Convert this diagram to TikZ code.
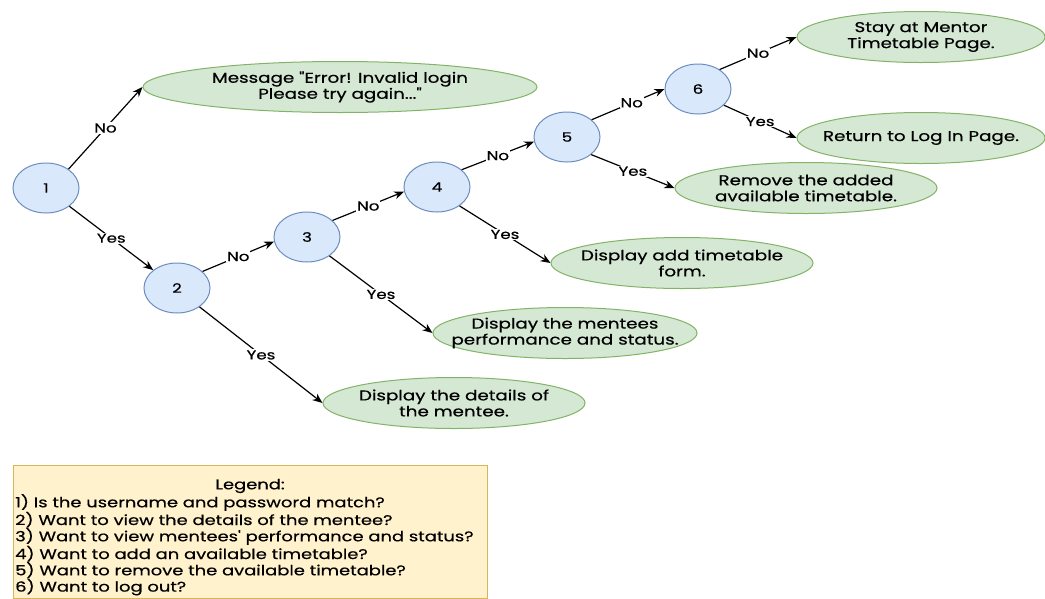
\documentclass[tikz,border=0pt]{standalone}
\usepackage{fontspec}
\setmainfont{Poppins}[Ligatures=TeXOff, FakeStretch=1.28, FakeBold=0.5]
\usetikzlibrary{shapes.geometric,arrows.meta}
\definecolor{qfill}{HTML}{DAE8FC}
\definecolor{qline}{HTML}{6C8EBF}
\definecolor{afill}{HTML}{D5E8D4}
\definecolor{aline}{HTML}{82B366}
\definecolor{lfill}{HTML}{FFF2CC}
\definecolor{lline}{HTML}{D6B656}
\begin{document}
\begin{tikzpicture}[x=1pt,y=-1pt,
  question/.style={ellipse, draw=qline, fill=qfill, line width=1pt,
    minimum width=66pt, minimum height=50pt, inner sep=0pt,
    font=\fontsize{13}{15}\selectfont},
  outcome/.style={ellipse, draw=aline, fill=afill, line width=1pt,
    inner ysep=0pt, inner xsep=-60pt, align=center, minimum height=51pt,
    font=\fontsize{14.3}{16}\selectfont},
  link/.style={line width=1.2pt, -{Stealth[length=10pt,width=8pt]}},
  tag/.style={fill=white, inner sep=1pt, font=\fontsize{13}{15}\selectfont}]
\useasboundingbox (0,0) rectangle (1045,598);

% decision points
\node[question] (q1) at (46,188) {1};
\node[question] (q2) at (177,288) {2};
\node[question] (q3) at (307,237) {3};
\node[question] (q4) at (437,187) {4};
\node[question] (q5) at (567,137) {5};
\node[question] (q6) at (698,89) {6};

% outcomes
\node[outcome, minimum width=394pt] (err) at (340,87)
  {Message "Error! Invalid login\\Please try again..."};
\node[outcome, minimum width=248pt] (stay) at (921,37)
  {Stay at Mentor\\Timetable Page.};
\node[outcome, minimum width=248pt] (back) at (921,138)
  {Return to Log In Page.};
\node[outcome, minimum width=262pt] (remove) at (806,188)
  {Remove the added\\available timetable.};
\node[outcome, minimum width=262pt] (add) at (682,263)
  {Display add timetable\\form.};
\node[outcome, minimum width=264pt] (perf) at (565,333)
  {Display the mentees\\performance and status.};
\node[outcome, minimum width=262pt] (details) at (454,403)
  {Display the details of\\the mentee.};

% branches
\draw[link] (q1.40) -- node[tag] {No} (err.west);
\draw[link] (q1.-38) -- node[tag] {Yes} (q2.143);
\draw[link] (q2.33) -- node[tag] {No} (q3.188);
\draw[link] (q2.-40) -- node[tag] {Yes} (details.west);
\draw[link] (q3.33) -- node[tag] {No} (q4.188);
\draw[link] (q3.-40) -- node[tag] {Yes} (perf.west);
\draw[link] (q4.35) -- node[tag] {No} (q5.188);
\draw[link] (q4.-40) -- node[tag] {Yes} (add.west);
\draw[link] (q5.35) -- node[tag, pos=0.55] {No} (q6.west);
\draw[link] (q5.-36) -- node[tag] {Yes} (remove.west);
\draw[link] (q6.42) -- node[tag] {No} (stay.west);
\draw[link] (q6.-32) -- node[tag] {Yes} (back.west);

% legend
\node[draw=lline, fill=lfill, line width=1pt, anchor=north west,
  minimum width=474pt, minimum height=133pt, inner sep=0pt] (legend) at (13,465) {};
\node[font=\fontsize{14}{16}\selectfont] (legtitle) at (250,486) {Legend:};
\node[anchor=north west, align=left, inner sep=0pt,
  font=\fontsize{14}{16.3}\selectfont] (legtext) at (15,494)
  {1) Is the username and password match?\\
   2) Want to view the details of the mentee?\\
   3) Want to view mentees' performance and status?\\
   4) Want to add an available timetable?\\
   5) Want to remove the available timetable?\\
   6) Want to log out?};
\end{tikzpicture}
\end{document}
